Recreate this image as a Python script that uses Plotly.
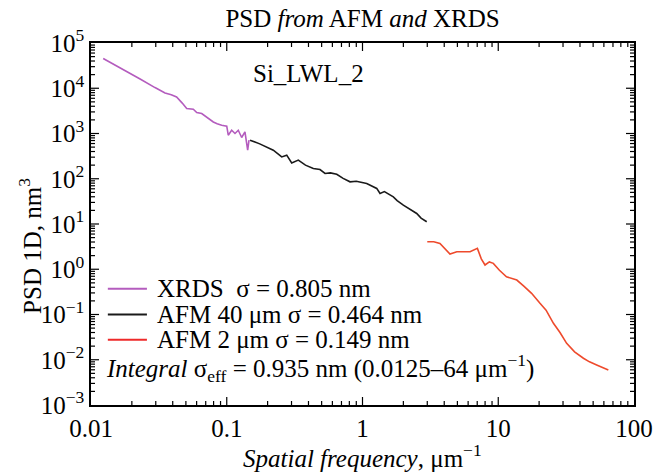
import plotly.graph_objects as go

# XRDS PSD
xrds_f = [0.0123, 0.0150, 0.0188, 0.0230, 0.0296, 0.0351, 0.0390, 0.0427, 0.0470, 0.0507, 0.0567,
          0.0601, 0.0654, 0.0720, 0.0796, 0.0850, 0.0918, 0.1000, 0.1026, 0.1087, 0.1150,
          0.1216, 0.1288, 0.1362, 0.1426, 0.1459]
xrds_psd = [45300, 33000, 22900, 16000, 10350, 7870, 7200, 6430, 4700, 3560, 3440,
            2910, 2770, 2200, 1800, 1650, 1520, 1450, 916, 1180, 1000,
            1180, 817, 1083, 428, 711]

# AFM 40 um PSD
afm40_f = [0.1484, 0.175, 0.2203, 0.254, 0.2766, 0.3009, 0.3366, 0.38, 0.4342, 0.4864, 0.5296,
           0.58, 0.6461, 0.72, 0.8094, 0.90, 1.074, 1.15, 1.273, 1.346, 1.45, 1.687,
           1.80, 1.999, 2.20, 2.508, 2.70, 2.972]
afm40_psd = [711, 590, 428, 304, 332, 224, 258, 200, 169, 160, 131,
             135, 126, 102, 85.5, 88, 78.8, 70, 61.1, 47.3, 52, 39.8,
             33, 26.1, 22, 17.1, 13.5, 11.2]

# AFM 2 um PSD
afm2_f = [3.00, 3.35, 3.72, 4.05, 4.41, 4.95, 5.60, 6.20, 7.02, 7.50, 7.99, 8.60, 9.20,
          10.2, 11.5, 12.5, 13.7, 15.5, 17.6, 20.3, 22.5, 25.5, 28.5, 31.9, 36.5,
          42.4, 47.0, 53.1, 58.0, 64.7]
afm2_psd = [4.05, 4.05, 3.73, 2.90, 2.17, 2.43, 2.43, 2.43, 2.89, 1.70, 1.24, 1.45, 1.35,
            0.95, 0.683, 0.62, 0.578, 0.42, 0.294, 0.177, 0.125, 0.064, 0.040, 0.0231, 0.0150,
            0.0108, 0.0090, 0.00767, 0.0068, 0.00596]

labels = ["XRDS  σ = 0.805 nm", "AFM 40 μm σ = 0.464 nm", "AFM 2 μm σ = 0.149 nm"]
colors = ["#B45CBE", "#1a1a1a", "#EE2A2A"]
curve_colors = ["#B45CBE", "#1a1a1a", "#EE4A2C"]

x_tickvals = [0.01, 0.1, 1, 10, 100]
x_ticktext = ["0.01", "0.1", "1", "10", "100"]
y_exps = [5, 4, 3, 2, 1, 0, -1, -2, -3]

FONT = "Liberation Serif, Times New Roman, serif"
FS = 25
W, H = 657, 475
ML, MR, MT, MB = 91, 23, 43, 70
PW, PH = W - ML - MR, H - MT - MB

fig = go.Figure()
for fx, fy, name, c in [(xrds_f, xrds_psd, labels[0], curve_colors[0]),
                        (afm40_f, afm40_psd, labels[1], curve_colors[1]),
                        (afm2_f, afm2_psd, labels[2], curve_colors[2])]:
    fig.add_trace(go.Scatter(x=fx, y=fy, mode="lines", name=name, showlegend=False,
                             line=dict(color=c, width=1.6)))

axis_common = dict(
    type="log", showline=True, linecolor="black", linewidth=1.5, mirror=True,
    ticks="", showgrid=False, zeroline=False, automargin=False,
    tickfont=dict(family=FONT, size=FS, color="black"),
)

fig.update_layout(
    xaxis=dict(**axis_common, range=[-2, 2], tickvals=x_tickvals, ticktext=x_ticktext),
    yaxis=dict(**axis_common, range=[-3, 5],
               tickvals=[10.0 ** e for e in y_exps],
               ticktext=["10<sup>%s</sup>" % str(e).replace("-", "−") for e in y_exps]),
)

# tick marks (inside, on all four sides), placed through the axis scales
MAJ, MIN = 8, 4
x_major = x_tickvals[1:-1]
x_minor = [k * 10.0 ** e for e in range(-2, 2) for k in range(2, 10)]
y_major = [10.0 ** e for e in y_exps[1:-1]]
y_minor = [k * 10.0 ** e for e in range(-3, 5) for k in range(2, 10)]
tick_line = dict(color="black", width=1.2)
for vals, ln in [(x_major, MAJ), (x_minor, MIN)]:
    for v in vals:
        fig.add_shape(type="line", xref="x", yref="y domain", x0=v, x1=v, y0=0, y1=ln / PH, line=tick_line)
        fig.add_shape(type="line", xref="x", yref="y domain", x0=v, x1=v, y0=1, y1=1 - ln / PH, line=tick_line)
for vals, ln in [(y_major, MAJ), (y_minor, MIN)]:
    for v in vals:
        fig.add_shape(type="line", xref="x domain", yref="y", x0=0, x1=ln / PW, y0=v, y1=v, line=tick_line)
        fig.add_shape(type="line", xref="x domain", yref="y", x0=1, x1=1 - ln / PW, y0=v, y1=v, line=tick_line)

# axis titles
fig.add_annotation(x=0.5, y=-0.142, xref="paper", yref="paper", xanchor="center", yanchor="middle",
                   text="<i>Spatial frequency</i>, μm<sup>−1</sup>", showarrow=False,
                   font=dict(family=FONT, size=FS, color="black"))
fig.add_annotation(x=-0.112, y=0.44, xref="paper", yref="paper", xanchor="center", yanchor="middle",
                   text="PSD 1D, nm<sup>3</sup>", showarrow=False, textangle=-90,
                   font=dict(family=FONT, size=FS, color="black"))

fig.add_annotation(x=-0.40, y=4.33, xref="x", yref="y", text="Si_LWL_2", showarrow=False,
                   font=dict(family=FONT, size=FS, color="black"))

# legend drawn as line samples + text
leg_y = [0.321, 0.250, 0.180]
for yy, lab, c in zip(leg_y, labels, colors):
    fig.add_shape(type="line", xref="paper", yref="paper", x0=0.031, x1=0.103, y0=yy, y1=yy,
                  line=dict(color=c, width=2))
    fig.add_annotation(x=0.118, y=yy, xref="paper", yref="paper", xanchor="left", yanchor="middle",
                       text=lab, showarrow=False, font=dict(family=FONT, size=FS, color="black"))

fig.add_annotation(x=0.024, y=0.102, xref="paper", yref="paper", xanchor="left", yanchor="middle",
                   text="<i>Integral</i> σ<sub>eff</sub> = 0.935 nm (0.0125–64 μm<sup>−1</sup>)",
                   showarrow=False, font=dict(family=FONT, size=FS, color="black"))

fig.update_layout(
    width=W, height=H,
    margin=dict(l=ML, r=MR, t=MT, b=MB),
    paper_bgcolor="white", plot_bgcolor="white",
    title=dict(text="PSD <i>from</i> AFM <i>and</i> XRDS", x=0.5, xref="paper",
               y=1 - 18 / H, yref="container", yanchor="middle",
               font=dict(family=FONT, size=FS, color="black")),
    showlegend=False,
)

fig.write_html("out.html", config={"displayModeBar": False},
               post_script="document.body.style.margin='0';")
